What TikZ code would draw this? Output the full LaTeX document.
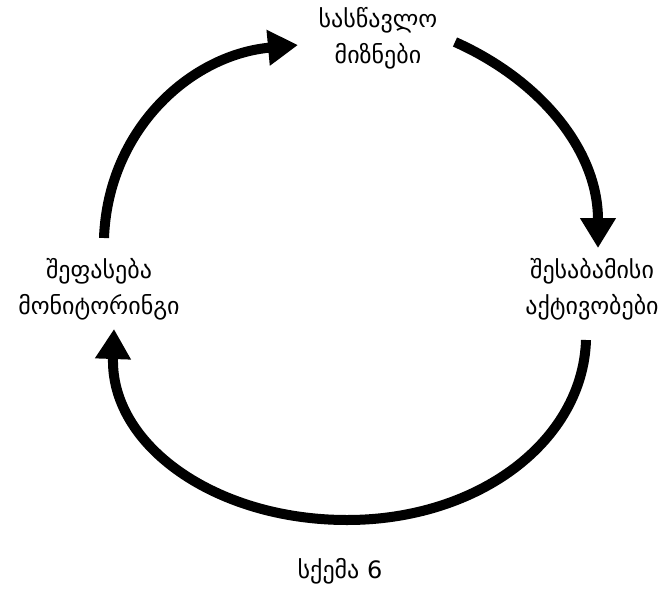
\documentclass[tikz,border=0pt]{standalone}
\usepackage{fontspec}
\newfontfamily\geofont{DejaVu Sans}
\usetikzlibrary{arrows.meta}
\begin{document}
\begin{tikzpicture}[x=1pt,y=-1pt,
  label/.style={font=\geofont\fontsize{24}{36}\selectfont, align=center, inner sep=0pt},
  cyc/.style={line width=10pt, -{Triangle[length=30pt,width=34pt]}}]
\useasboundingbox (0,0) rectangle (667,589);
\node[label] (goals) at (378,38) {სასწავლო\\მიზნები};
\node[label] (acts) at (592,289) {შესაბამისი\\აქტივობები};
\node[label] (eval) at (99,289) {შეფასება\\მონიტორინგი};
\node[label] (cap) at (340,571) {სქემა 6};
\coordinate (a1s) at (104,238);
\coordinate (a1e) at (298,45);
\coordinate (a2s) at (455,42);
\coordinate (a2e) at (598,248);
\coordinate (a3s) at (586,340);
\coordinate (a3m) at (347,520);
\coordinate (a3e) at (114,329);
\draw[cyc] (a1s) .. controls (108,130) and (190,55) .. (a1e);
\draw[cyc] (a2s) .. controls (540,80) and (598,150) .. (a2e);
\draw[cyc] (a3s) .. controls (583,440) and (480,520) .. (a3m) .. controls (215,520) and (110,445) .. (a3e);
\end{tikzpicture}
\end{document}
